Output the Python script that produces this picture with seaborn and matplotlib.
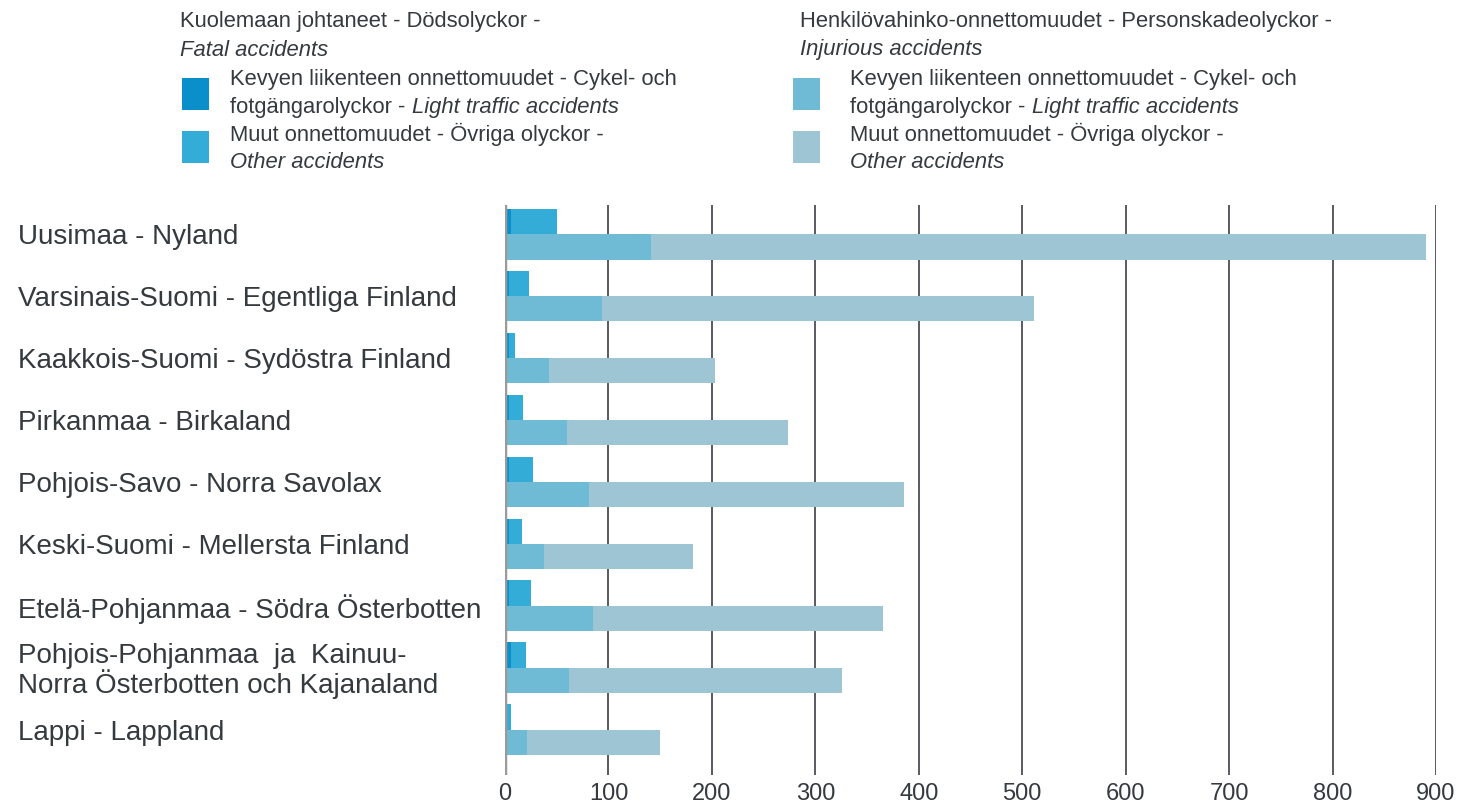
import matplotlib
matplotlib.use("Agg")
import matplotlib.pyplot as plt
import matplotlib.patches as mpatches
import seaborn as sns
import pandas as pd

regions = [
    "Uusimaa - Nyland",
    "Varsinais-Suomi - Egentliga Finland",
    "Kaakkois-Suomi - Sydöstra Finland",
    "Pirkanmaa - Birkaland",
    "Pohjois-Savo - Norra Savolax",
    "Keski-Suomi - Mellersta Finland",
    "Etelä-Pohjanmaa - Södra Österbotten",
    "Pohjois-Pohjanmaa  ja  Kainuu-\nNorra Österbotten och Kajanaland",
    "Lappi - Lappland",
]
fatal_light = [6, 4, 4, 4, 4, 4, 4, 6, 0]
fatal_other = [44, 19, 6, 13, 23, 12, 21, 14, 6]
injur_light = [141, 94, 43, 60, 81, 38, 85, 62, 21]
injur_other = [749, 417, 160, 214, 305, 144, 280, 264, 129]
xticks = [0, 100, 200, 300, 400, 500, 600, 700, 800, 900]

c_fl = "#0a8fcb"
c_fo = "#34acd8"
c_il = "#6fbbd6"
c_io = "#9dc5d4"
txt = "#353a3f"

rows = []
for i, r in enumerate(regions):
    rows.append({"region": r, "group": "fatal", "light": fatal_light[i],
                 "total": fatal_light[i] + fatal_other[i]})
    rows.append({"region": r, "group": "injur", "light": injur_light[i],
                 "total": injur_light[i] + injur_other[i]})
df = pd.DataFrame(rows)

sns.set_style("white")
plt.rcParams["font.family"] = ["Liberation Sans", "DejaVu Sans"]

fig = plt.figure(figsize=(14.61, 8.09), dpi=100)
ax = fig.add_axes([505 / 1461, 1 - 775 / 809, (1436 - 505) / 1461, (775 - 205) / 809])

sns.barplot(data=df, y="region", x="total", hue="group", hue_order=["fatal", "injur"],
            palette=[c_fo, c_io], orient="h", width=0.82, saturation=1,
            errorbar=None, legend=False, ax=ax, zorder=2, linewidth=0, edgecolor="none")
sns.barplot(data=df, y="region", x="light", hue="group", hue_order=["fatal", "injur"],
            palette=[c_fl, c_il], orient="h", width=0.82, saturation=1,
            errorbar=None, legend=False, ax=ax, zorder=3, linewidth=0, edgecolor="none")

ax.set_xlim(0, 900)
ax.set_ylim(8.73, -0.47)
ax.set_xlabel("")
ax.set_ylabel("")
for s in ax.spines.values():
    s.set_visible(False)

for x in xticks[1:]:
    ax.axvline(x, color="#3c4044", lw=1.2, zorder=1)
ax.axvline(0, color="#9a9a9a", lw=2.5, zorder=4)

ax.set_xticks(xticks)
ax.set_xticklabels([str(x) for x in xticks], fontsize=17, color=txt)
ax.tick_params(axis="x", length=0, pad=6)
ax.tick_params(axis="y", length=0, pad=351, labelsize=20, labelcolor=txt)
for lab in ax.get_yticklabels():
    lab.set_horizontalalignment("left")
    lab.set_linespacing(1.0)

# legend block
W, H = 1461, 809
fs = 15.8
renderer = fig.canvas.get_renderer()


def ftext(x, y, s, **kw):
    return fig.text(x / W, 1 - y / H, s, fontsize=fs, color=txt, va="center", **kw)


def mixed(x, y, a, b):
    t = ftext(x, y, a)
    bb = t.get_window_extent(renderer=renderer)
    ftext(bb.x1, y, b, style="italic")


def swatch(x, y, c):
    fig.patches.append(mpatches.Rectangle((x / W, 1 - (y + 32) / H), 27 / W, 32 / H,
                                          transform=fig.transFigure, color=c, lw=0))


blocks = [
    (180, 230, 182, "Kuolemaan johtaneet - Dödsolyckor -", "Fatal accidents", c_fl, c_fo),
    (800, 850, 793, "Henkilövahinko-onnettomuudet - Personskadeolyckor -", "Injurious accidents", c_il, c_io),
]
for hx, tx, sx, head, head_it, ca, cb in blocks:
    ftext(hx, 22, head)
    ftext(hx, 50, head_it, style="italic")
    swatch(sx, 78, ca)
    ftext(tx, 79, "Kevyen liikenteen onnettomuudet - Cykel- och")
    mixed(tx, 107, "fotgängarolyckor - ", "Light traffic accidents")
    swatch(sx, 131, cb)
    ftext(tx, 134, "Muut onnettomuudet - Övriga olyckor -")
    ftext(tx, 163, "Other accidents", style="italic")

fig.savefig("out.png", dpi=100)
